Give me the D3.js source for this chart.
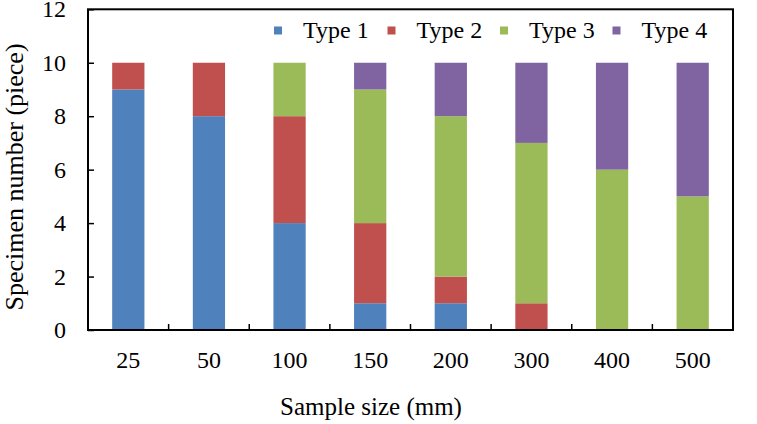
<!DOCTYPE html>
<html><head><meta charset="utf-8">
<script src="https://cdn.jsdelivr.net/npm/d3@7"></script>
<style>body{margin:0;background:#fff;}svg{display:block;}</style>
</head><body>
<svg id="c" width="757" height="424"></svg>
<script>
const categories = ["25","50","100","150","200","300","400","500"];
const seriesNames = ["Type 1","Type 2","Type 3","Type 4"];
const type1 = [9,8,4,1,1,0,0,0];
const type2 = [1,2,4,3,1,1,0,0];
const type3 = [0,0,2,5,6,6,6,5];
const type4 = [0,0,0,1,2,3,4,5];
const yTicks = [0,2,4,6,8,10,12];
const colors = ["#4F81BD","#C0504D","#9BBB59","#8064A2"];
const FONT = '"Liberation Serif"';

const svg = d3.select("#c");
const L = 88, R = 733, T = 9.3, B = 330;
const x = d3.scaleBand().domain(categories).range([L,R]).paddingInner(0.6).paddingOuter(0.3);
const y = d3.scaleLinear().domain([0,12]).range([B,T]);

const rows = categories.map((c,i)=>({cat:c,"Type 1":type1[i],"Type 2":type2[i],"Type 3":type3[i],"Type 4":type4[i]}));
const stack = d3.stack().keys(seriesNames)(rows);

svg.append("g").selectAll("g").data(stack).join("g")
  .attr("fill",(d,i)=>colors[i])
  .selectAll("rect").data(d=>d).join("rect")
  .attr("x",d=>x(d.data.cat))
  .attr("width",x.bandwidth())
  .attr("y",d=>y(d[1]))
  .attr("height",d=>y(d[0])-y(d[1]));

// frame
svg.append("rect").attr("x",L).attr("y",T).attr("width",R-L).attr("height",B-T)
  .attr("fill","none").attr("stroke","#000").attr("stroke-width",2);

// y axis
const yAxis = d3.axisLeft(y).tickValues(yTicks).tickSize(-6).tickPadding(22);
const gy = svg.append("g").attr("transform",`translate(${L},0)`).call(yAxis);
gy.select(".domain").remove();
gy.selectAll("line").attr("stroke","#000").attr("stroke-width",1.5);
gy.selectAll("text").style("font-family",FONT).style("font-size","24px").attr("fill","#000");

// x axis: labels at band centers, ticks at band boundaries
const step = x.step();
const xAxis = d3.axisBottom(x).tickSize(0).tickPadding(21);
const gx = svg.append("g").attr("transform",`translate(0,${B})`).call(xAxis);
gx.select(".domain").remove();
gx.selectAll("text").style("font-family",FONT).style("font-size","24px").attr("fill","#000");
const bounds = categories.slice(0,-1).map(c=>x(c)+x.bandwidth()/2+step/2);
svg.append("g").selectAll("line").data(bounds).join("line")
  .attr("x1",d=>d).attr("x2",d=>d).attr("y1",B).attr("y2",B-6)
  .attr("stroke","#000").attr("stroke-width",1.5);

// axis titles
svg.append("text").attr("x",371).attr("y",415).attr("text-anchor","middle")
  .style("font-family",FONT).style("font-size","25px").text("Sample size (mm)");
svg.append("text").attr("transform","translate(23,177) rotate(-90)").attr("text-anchor","middle")
  .style("font-family",FONT).style("font-size","26px").text("Specimen number (piece)");

// legend
const legX = [274,387.5,500,612.5];
const lg = svg.append("g").selectAll("g").data(seriesNames).join("g")
  .attr("transform",(d,i)=>`translate(${legX[i]},0)`);
lg.append("rect").attr("x",0).attr("y",26.5).attr("width",8).attr("height",8).attr("fill",(d,i)=>colors[i]);
lg.append("text").attr("x",29).attr("y",38).style("font-family",FONT).style("font-size","24px").text(d=>d);
</script>
</body></html>
